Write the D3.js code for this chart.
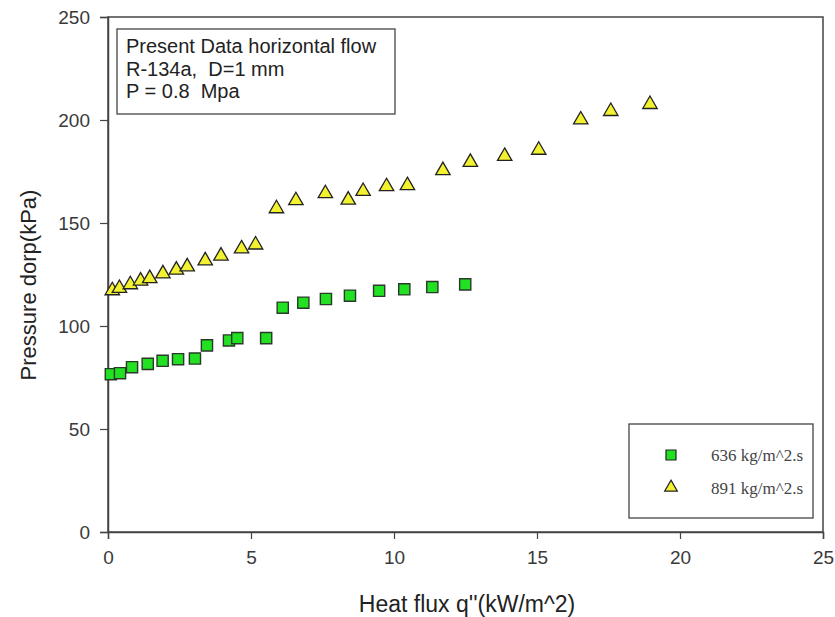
<!DOCTYPE html>
<html>
<head>
<meta charset="utf-8">
<script src="https://cdn.jsdelivr.net/npm/d3@7"></script>
<style>
    body { margin: 0; background: #fff; }
    svg { display: block; }
    text { white-space: pre; }
</style>
</head>
<body>
<svg id="chart" width="835" height="617"></svg>
<script>
// Data
var g636X = [0.10, 0.42, 0.84, 1.39, 1.91, 2.45, 3.04, 3.46, 4.23, 4.52, 5.53, 6.11, 6.83, 7.62, 8.46, 9.48, 10.36, 11.34, 12.49];
var g636Y = [76.6, 77.1, 80.0, 81.6, 83.1, 83.9, 84.2, 90.6, 93.0, 94.1, 94.1, 108.9, 111.3, 113.1, 114.7, 117.1, 117.8, 118.9, 120.2];

var g891X = [0.15, 0.40, 0.78, 1.14, 1.46, 1.92, 2.39, 2.77, 3.40, 3.95, 4.67, 5.16, 5.89, 6.57, 7.60, 8.40, 8.92, 9.74, 10.47, 11.71, 12.67, 13.87, 15.06, 16.53, 17.58, 18.95];
var g891Y = [117.2, 118.3, 120.1, 121.9, 123.1, 125.4, 127.2, 128.8, 131.7, 134.0, 137.5, 139.4, 157.0, 160.9, 164.3, 161.2, 165.4, 167.7, 168.2, 175.5, 179.5, 182.4, 185.4, 200.1, 204.2, 207.6];

var xTicks = [0, 5, 10, 15, 20, 25];
var yTicks = [0, 50, 100, 150, 200, 250];

var legendLabels = ["636 kg/m^2.s", "891 kg/m^2.s"];
var noteLines = ["Present Data horizontal flow", "R-134a,  D=1 mm", "P = 0.8  Mpa"];

var svg = d3.select("#chart"),
    width = +svg.attr("width"),
    height = +svg.attr("height");

var margin = { top: 17, right: 12, bottom: 85, left: 108 };
var x = d3.scaleLinear().domain([0, 25]).range([margin.left, width - margin.right]);
var y = d3.scaleLinear().domain([0, 250]).range([height - margin.bottom, margin.top]);

var lineColor = "#444";
var textColor = "#3a3a3a";

// frame
svg.append("rect")
    .attr("x", x(0))
    .attr("y", y(250))
    .attr("width", x(25) - x(0))
    .attr("height", y(0) - y(250))
    .attr("fill", "none")
    .attr("stroke", lineColor)
    .attr("stroke-width", 1.5);

// axes
var xAxis = svg.append("g")
    .attr("transform", "translate(0," + y(0) + ")")
    .call(d3.axisBottom(x).tickValues(xTicks).tickSize(7).tickPadding(12).tickFormat(d3.format("d")));
var yAxis = svg.append("g")
    .attr("transform", "translate(" + x(0) + ",0)")
    .call(d3.axisLeft(y).tickValues(yTicks).tickSize(8).tickPadding(10).tickFormat(d3.format("d")));

[xAxis, yAxis].forEach(function (a) {
    a.select(".domain").attr("stroke", lineColor).attr("stroke-width", 1.5);
    a.selectAll(".tick line").attr("stroke", lineColor).attr("stroke-width", 1.2);
    a.selectAll(".tick text")
        .attr("font-family", "Liberation Sans, Arial, sans-serif")
        .attr("font-size", "19px")
        .attr("fill", textColor);
});

// axis titles
svg.append("text")
    .attr("x", 467)
    .attr("y", 612)
    .attr("text-anchor", "middle")
    .attr("font-family", "Liberation Sans, Arial, sans-serif")
    .attr("font-size", "23px")
    .attr("fill", "#222")
    .text("Heat flux q''(kW/m^2)");

svg.append("text")
    .attr("transform", "translate(36," + 285 + ") rotate(-90)")
    .attr("text-anchor", "middle")
    .attr("font-family", "Liberation Sans, Arial, sans-serif")
    .attr("font-size", "22px")
    .attr("fill", "#222")
    .text("Pressure dorp(kPa)");

// note box
svg.append("rect")
    .attr("x", 117).attr("y", 29)
    .attr("width", 278).attr("height", 85)
    .attr("fill", "#fff")
    .attr("stroke", lineColor)
    .attr("stroke-width", 1.3);

svg.selectAll(".note")
    .data(noteLines)
    .enter()
    .append("text")
    .attr("class", "note")
    .attr("x", 126)
    .attr("y", function (d, i) { return 53 + i * 22.5; })
    .attr("font-family", "Liberation Sans, Arial, sans-serif")
    .attr("font-size", "20px")
    .attr("fill", "#222")
    .text(function (d) { return d; });

// points
var square = d3.symbol().type(d3.symbolSquare).size(125);
var triangle = d3.symbol().type(d3.symbolTriangle).size(90);

svg.selectAll(".sq")
    .data(d3.range(g636X.length))
    .enter()
    .append("path")
    .attr("class", "sq")
    .attr("d", square)
    .attr("transform", function (i) { return "translate(" + x(g636X[i]) + "," + y(g636Y[i]) + ")"; })
    .attr("fill", "#22e022")
    .attr("stroke", "#2a3a2a")
    .attr("stroke-width", 1.4);

svg.selectAll(".tri")
    .data(d3.range(g891X.length))
    .enter()
    .append("path")
    .attr("class", "tri")
    .attr("d", triangle)
    .attr("transform", function (i) { return "translate(" + x(g891X[i]) + "," + y(g891Y[i]) + ")"; })
    .attr("fill", "#f2f230")
    .attr("stroke", "#222")
    .attr("stroke-width", 1.3);

// legend
svg.append("rect")
    .attr("x", 629).attr("y", 424)
    .attr("width", 184).attr("height", 94)
    .attr("fill", "#fff")
    .attr("stroke", lineColor)
    .attr("stroke-width", 1.3);

var legend = svg.selectAll(".leg")
    .data(legendLabels)
    .enter()
    .append("g")
    .attr("class", "leg")
    .attr("transform", function (d, i) { return "translate(0," + (455 + i * 32.5) + ")"; });

legend.append("path")
    .attr("d", function (d, i) { return i === 0 ? d3.symbol().type(d3.symbolSquare).size(100)() : d3.symbol().type(d3.symbolTriangle).size(70)(); })
    .attr("transform", "translate(671,0)")
    .attr("fill", function (d, i) { return i === 0 ? "#22e022" : "#f2f230"; })
    .attr("stroke", "#222")
    .attr("stroke-width", 1.2);

legend.append("text")
    .attr("x", 711)
    .attr("y", 6)
    .attr("font-family", "Liberation Serif, Times New Roman, serif")
    .attr("font-size", "17px")
    .attr("fill", "#444")
    .text(function (d) { return d; });
</script>
</body>
</html>
